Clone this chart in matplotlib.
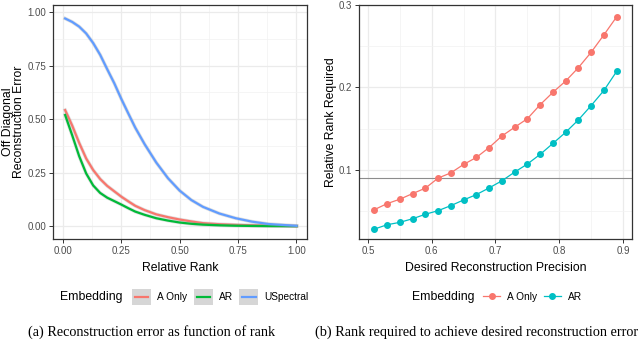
import matplotlib.pyplot as plt
from matplotlib.patches import Rectangle
from matplotlib.lines import Line2D

# panel (a): reconstruction error vs relative rank
rank = [0.01, 0.04, 0.07, 0.1, 0.13, 0.16, 0.19, 0.22, 0.25, 0.28, 0.31,
        0.35, 0.4, 0.45, 0.5, 0.55, 0.6, 0.67, 0.74, 0.81, 0.88, 1.0]
err_a_only = [0.542, 0.470, 0.389, 0.316, 0.262, 0.220, 0.188, 0.163, 0.138, 0.116, 0.095,
              0.075, 0.055, 0.042, 0.031, 0.022, 0.014, 0.009, 0.006, 0.004, 0.002, 0.0]
err_ar = [0.519, 0.425, 0.327, 0.246, 0.190, 0.155, 0.133, 0.117, 0.101, 0.084, 0.068,
          0.053, 0.037, 0.026, 0.017, 0.011, 0.007, 0.004, 0.002, 0.001, 0.0005, 0.0]
err_uspectral = [0.970, 0.954, 0.932, 0.900, 0.855, 0.800, 0.733, 0.668, 0.595, 0.527, 0.460,
                 0.383, 0.297, 0.224, 0.166, 0.122, 0.090, 0.059, 0.037, 0.021, 0.010, 0.0015]

# panel (b): rank required for a given precision
precision = [0.51, 0.53, 0.55, 0.57, 0.59, 0.61, 0.63, 0.65, 0.67, 0.69,
             0.71, 0.73, 0.75, 0.77, 0.79, 0.81, 0.83, 0.85, 0.87, 0.89]
req_a_only = [0.0516, 0.0589, 0.0643, 0.0711, 0.0777, 0.0899, 0.0963, 0.1065, 0.115, 0.127,
              0.141, 0.1516, 0.162, 0.179, 0.194, 0.2077, 0.224, 0.2427, 0.2638, 0.2857]
req_ar = [0.028, 0.0333, 0.0362, 0.0406, 0.046, 0.0504, 0.0565, 0.0634, 0.0699, 0.078,
          0.0866, 0.0972, 0.107, 0.1187, 0.132, 0.1455, 0.1606, 0.178, 0.1963, 0.2195]
threshold = 0.09

RED, GREEN, BLUE, TEAL = "#F8766D", "#00BA38", "#619CFF", "#00BFC4"

plt.rcParams["font.family"] = ["Liberation Sans", "DejaVu Sans"]

fig = plt.figure(figsize=(6.4, 3.4), dpi=100)
ax1 = fig.add_axes([53 / 640, 101 / 340, 254 / 640, 234 / 340])
ax2 = fig.add_axes([359 / 640, 101 / 340, 273 / 640, 234 / 340])


def style_axes(ax):
    """theme_bw look"""
    ax.grid(True, which="major", color="#EBEBEB", linewidth=0.9)
    ax.grid(True, which="minor", color="#F2F2F2", linewidth=0.5)
    ax.set_axisbelow(True)
    for s in ax.spines.values():
        s.set_color("#333333")
        s.set_linewidth(0.9)
    ax.tick_params(which="major", length=2.8, width=0.7, color="#333333",
                   labelsize=7, labelcolor="#4D4D4D", pad=2)
    ax.tick_params(which="minor", length=0)


class GreyKeyHandler:
    """ggplot style key: grey square with a short line inside"""

    def legend_artist(self, legend, orig_handle, fontsize, handlebox):
        x0, y0 = -handlebox.xdescent, -handlebox.ydescent
        w, h = handlebox.width, handlebox.height
        box = Rectangle((x0, y0), w, h, facecolor="#D6D6D6", edgecolor="none",
                        transform=handlebox.get_transform())
        line = Line2D([x0 + 0.15 * w, x0 + 0.85 * w], [y0 + h / 2, y0 + h / 2],
                      color=orig_handle.get_color(), linewidth=orig_handle.get_linewidth(),
                      transform=handlebox.get_transform())
        handlebox.add_artist(box)
        handlebox.add_artist(line)
        return box


# (a) smoothed curves with a faint grey band
for y, c in [(err_a_only, RED), (err_ar, GREEN), (err_uspectral, BLUE)]:
    ax1.plot(rank, y, color="#999999", alpha=0.3, linewidth=2.6, solid_joinstyle="round")
    ax1.plot(rank, y, color=c, linewidth=1.6, solid_joinstyle="round")
ax1.set_xlim(-0.042, 1.045)
ax1.set_ylim(-0.06, 1.033)
ax1.set_xticks([0, 0.25, 0.5, 0.75, 1.0])
ax1.set_xticks([0.125, 0.375, 0.625, 0.875], minor=True)
ax1.set_yticks([0, 0.25, 0.5, 0.75, 1.0])
ax1.set_yticks([0.125, 0.375, 0.625, 0.875], minor=True)
ax1.set_xticklabels(["0.00", "0.25", "0.50", "0.75", "1.00"])
ax1.set_yticklabels(["0.00", "0.25", "0.50", "0.75", "1.00"])
style_axes(ax1)
ax1.set_xlabel("Relative Rank", fontsize=8.8)
ax1.set_ylabel("Off Diagonal\nReconstruction Error", fontsize=8.8, linespacing=0.95)
ax1.xaxis.set_label_coords(0.5, -0.098)
ax1.yaxis.set_label_coords(-0.11, 0.5)

# (b)
ax2.axhline(threshold, color="#8C8C8C", linewidth=0.8)
ax2.plot(precision, req_a_only, color=RED, linewidth=0.9, marker="o", markersize=4)
ax2.plot(precision, req_ar, color=TEAL, linewidth=0.9, marker="o", markersize=4)
ax2.set_xlim(0.486, 0.914)
ax2.set_ylim(0.016, 0.3)
ax2.set_xticks([0.5, 0.6, 0.7, 0.8, 0.9])
ax2.set_xticks([0.55, 0.65, 0.75, 0.85], minor=True)
ax2.set_yticks([0.1, 0.2, 0.3])
ax2.set_yticks([0.05, 0.15, 0.25], minor=True)
ax2.set_yticklabels(["0.1", "0.2", "0.3"])
style_axes(ax2)
ax2.set_xlabel("Desired Reconstruction Precision", fontsize=8.8)
ax2.set_ylabel("Relative Rank Required", fontsize=8.8)
ax2.xaxis.set_label_coords(0.5, -0.098)
ax2.yaxis.set_label_coords(-0.08, 0.5)

# legends below each panel
h1 = [Line2D([], [], color=c, linewidth=1.6) for c in (RED, GREEN, BLUE)]
fig.legend(h1, ["A Only", "AR", "USpectral"], ncol=3, frameon=False,
           loc="center left", bbox_to_anchor=(127 / 640, 43 / 340),
           fontsize=7.3, handlelength=1.9, handleheight=1.9,
           handletextpad=0.6, columnspacing=0.6, borderpad=0,
           handler_map={Line2D: GreyKeyHandler()})
fig.text(60 / 640, 43 / 340, "Embedding", fontsize=8.8, va="center", ha="left")

h2 = [Line2D([], [], color=c, linewidth=0.9, marker="o", markersize=4) for c in (RED, TEAL)]
fig.legend(h2, ["A Only", "AR"], ncol=2, frameon=False,
           loc="center left", bbox_to_anchor=(478 / 640, 43 / 340),
           fontsize=7.3, handlelength=1.7, handletextpad=0.7, columnspacing=0.6,
           borderpad=0)
fig.text(412 / 640, 43 / 340, "Embedding", fontsize=8.8, va="center", ha="left")

# captions
fig.text(152 / 640, 8 / 340, "(a) Reconstruction error as function of rank",
         family="Liberation Serif", fontsize=10.3, ha="center", va="center")
fig.text(477 / 640, 8 / 340, "(b) Rank required to achieve desired reconstruction error",
         family="Liberation Serif", fontsize=10.3, ha="center", va="center")

fig.savefig("out.png", dpi=100)
